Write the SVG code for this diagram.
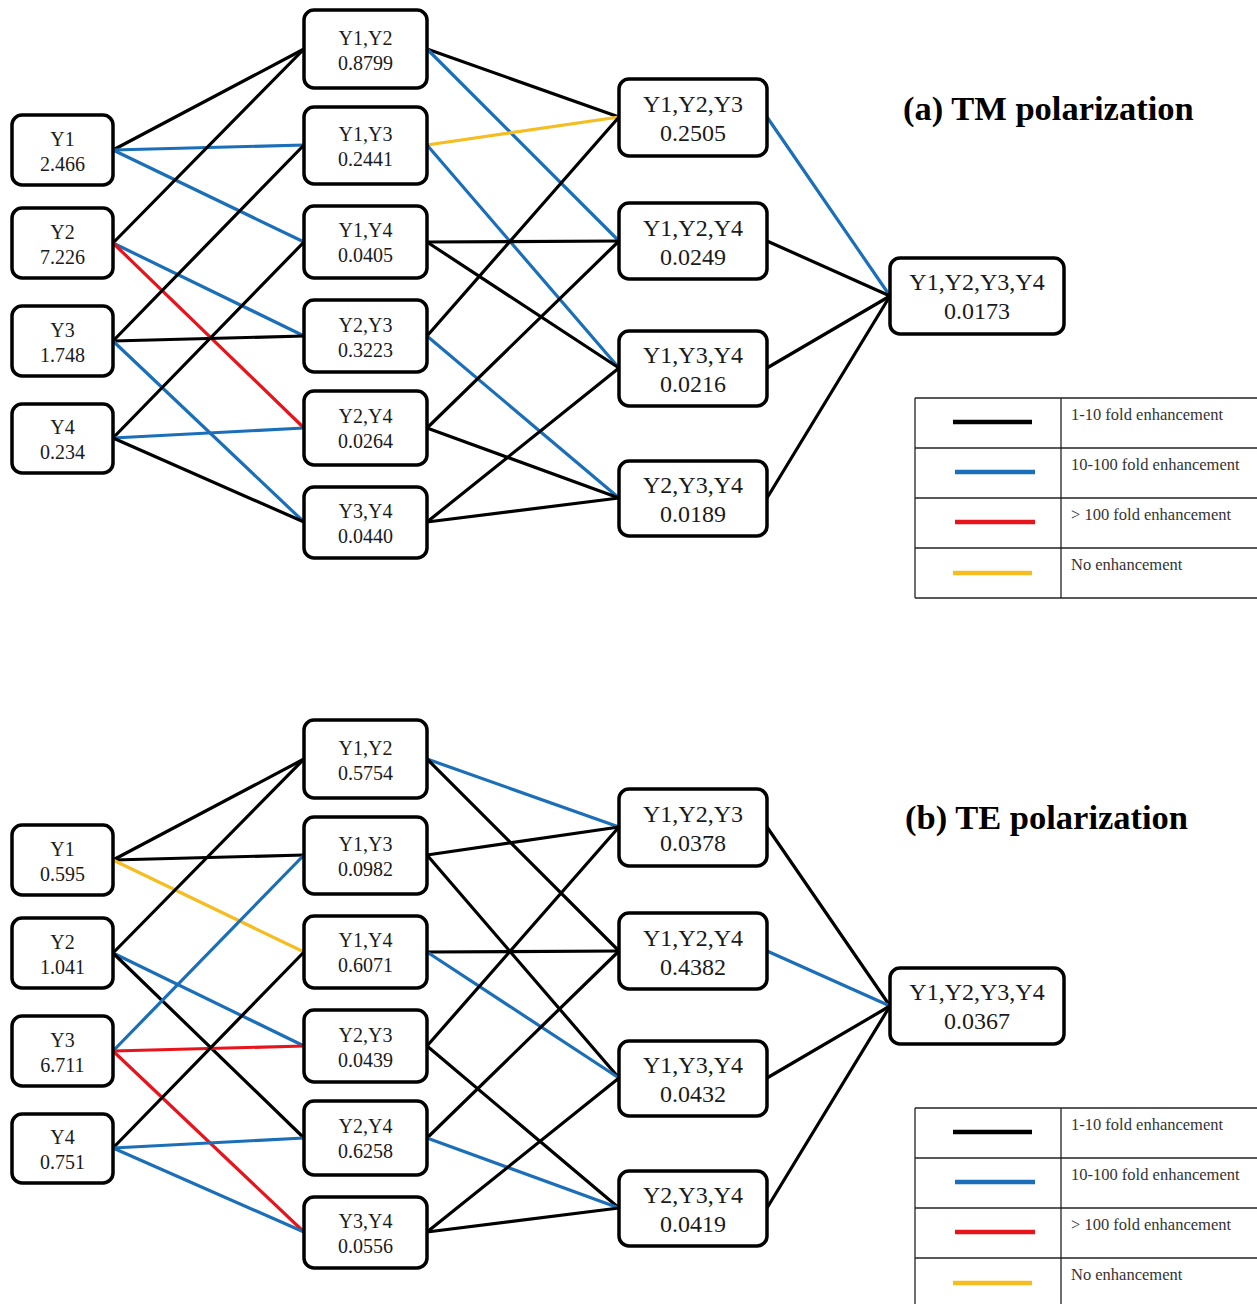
<svg xmlns="http://www.w3.org/2000/svg" width="1257" height="1304" viewBox="0 0 1257 1304">
<style>
.bg{fill:#fff}
.n rect{fill:#fff;stroke:#000;stroke-width:3.5}
.n text{font-family:"Liberation Serif","Times New Roman",serif;fill:#1a1a1a;text-anchor:middle}
.s text{font-size:20px}
.l text{font-size:24px}
.c line{stroke-width:3.2;stroke-linecap:round}
.k{stroke:#000}
.b{stroke:#1a6fb8}
.r{stroke:#e8141c}
.y{stroke:#f5bd1f}
.title{font-family:"Liberation Serif","Times New Roman",serif;font-weight:bold;font-size:34.5px;fill:#000}
.lg line.grid{stroke:#222;stroke-width:1.3}
.lg line.sw{stroke-width:4.5}
.lg text{font-family:"Liberation Serif","Times New Roman",serif;font-size:16.5px;fill:#333}
</style>
<rect class="bg" x="0" y="0" width="1257" height="1304"/>

<defs>
<g id="legend" class="lg">
  <line class="grid" x1="915" y1="398" x2="1257" y2="398"/>
  <line class="grid" x1="915" y1="448" x2="1257" y2="448"/>
  <line class="grid" x1="915" y1="498" x2="1257" y2="498"/>
  <line class="grid" x1="915" y1="548" x2="1257" y2="548"/>
  <line class="grid" x1="915" y1="598" x2="1257" y2="598"/>
  <line class="grid" x1="915" y1="398" x2="915" y2="598"/>
  <line class="grid" x1="1061" y1="398" x2="1061" y2="598"/>
  <line class="sw k" x1="953" y1="422" x2="1032" y2="422"/>
  <line class="sw b" x1="955" y1="472" x2="1035" y2="472"/>
  <line class="sw r" x1="955" y1="522" x2="1035" y2="522"/>
  <line class="sw y" x1="953" y1="573" x2="1032" y2="573"/>
  <text x="1071" y="420">1-10 fold enhancement</text>
  <text x="1071" y="470">10-100 fold enhancement</text>
  <text x="1071" y="520">&gt; 100 fold enhancement</text>
  <text x="1071" y="570">No enhancement</text>
</g>
</defs>

<!-- ================= Panel (a) TM ================= -->
<g id="panel-a">
<g id="a-connectors" class="c">
  <line class="k" x1="113" y1="150" x2="304" y2="49"/>
  <line class="b" x1="113" y1="150" x2="304" y2="145"/>
  <line class="b" x1="113" y1="150" x2="304" y2="242"/>
  <line class="k" x1="113" y1="243" x2="304" y2="49"/>
  <line class="b" x1="113" y1="243" x2="304" y2="336"/>
  <line class="r" x1="113" y1="243" x2="304" y2="428"/>
  <line class="k" x1="113" y1="341" x2="304" y2="145"/>
  <line class="k" x1="113" y1="341" x2="304" y2="336"/>
  <line class="b" x1="113" y1="341" x2="304" y2="522"/>
  <line class="k" x1="113" y1="438" x2="304" y2="242"/>
  <line class="b" x1="113" y1="438" x2="304" y2="428"/>
  <line class="k" x1="113" y1="438" x2="304" y2="522"/>

  <line class="k" x1="427" y1="49" x2="619" y2="117"/>
  <line class="b" x1="427" y1="49" x2="619" y2="241"/>
  <line class="y" x1="427" y1="145" x2="619" y2="117"/>
  <line class="b" x1="427" y1="145" x2="619" y2="368"/>
  <line class="k" x1="427" y1="242" x2="619" y2="241"/>
  <line class="k" x1="427" y1="242" x2="619" y2="368"/>
  <line class="k" x1="427" y1="336" x2="619" y2="117"/>
  <line class="b" x1="427" y1="336" x2="619" y2="498"/>
  <line class="k" x1="427" y1="428" x2="619" y2="241"/>
  <line class="k" x1="427" y1="428" x2="619" y2="498"/>
  <line class="k" x1="427" y1="522" x2="619" y2="368"/>
  <line class="k" x1="427" y1="522" x2="619" y2="498"/>

  <line class="b" x1="767" y1="117" x2="890" y2="296"/>
  <line class="k" x1="767" y1="241" x2="890" y2="296"/>
  <line class="k" x1="767" y1="368" x2="890" y2="296"/>
  <line class="k" x1="767" y1="498" x2="890" y2="296"/>
</g>

<g id="a-Y1" class="n s"><rect x="12" y="115" width="101" height="70" rx="10"/><text x="62.5" y="146">Y1</text><text x="62.5" y="171">2.466</text></g>
<g id="a-Y2" class="n s"><rect x="12" y="208" width="101" height="70" rx="10"/><text x="62.5" y="239">Y2</text><text x="62.5" y="264">7.226</text></g>
<g id="a-Y3" class="n s"><rect x="12" y="306" width="101" height="70" rx="10"/><text x="62.5" y="337">Y3</text><text x="62.5" y="362">1.748</text></g>
<g id="a-Y4" class="n s"><rect x="12" y="404" width="101" height="69" rx="10"/><text x="62.5" y="434">Y4</text><text x="62.5" y="459">0.234</text></g>

<g id="a-Y1Y2" class="n s"><rect x="304" y="10" width="123" height="78" rx="10"/><text x="365.5" y="45">Y1,Y2</text><text x="365.5" y="70">0.8799</text></g>
<g id="a-Y1Y3" class="n s"><rect x="304" y="107" width="123" height="77" rx="10"/><text x="365.5" y="141">Y1,Y3</text><text x="365.5" y="166">0.2441</text></g>
<g id="a-Y1Y4" class="n s"><rect x="304" y="206" width="123" height="72" rx="10"/><text x="365.5" y="237">Y1,Y4</text><text x="365.5" y="262">0.0405</text></g>
<g id="a-Y2Y3" class="n s"><rect x="304" y="300" width="123" height="72" rx="10"/><text x="365.5" y="332">Y2,Y3</text><text x="365.5" y="357">0.3223</text></g>
<g id="a-Y2Y4" class="n s"><rect x="304" y="391" width="123" height="74" rx="10"/><text x="365.5" y="423">Y2,Y4</text><text x="365.5" y="448">0.0264</text></g>
<g id="a-Y3Y4" class="n s"><rect x="304" y="487" width="123" height="71" rx="10"/><text x="365.5" y="518">Y3,Y4</text><text x="365.5" y="543">0.0440</text></g>

<g id="a-Y1Y2Y3" class="n l"><rect x="619" y="79" width="148" height="77" rx="10"/><text x="693" y="112">Y1,Y2,Y3</text><text x="693" y="141">0.2505</text></g>
<g id="a-Y1Y2Y4" class="n l"><rect x="619" y="203" width="148" height="76" rx="10"/><text x="693" y="236">Y1,Y2,Y4</text><text x="693" y="265">0.0249</text></g>
<g id="a-Y1Y3Y4" class="n l"><rect x="619" y="331" width="148" height="75" rx="10"/><text x="693" y="363">Y1,Y3,Y4</text><text x="693" y="392">0.0216</text></g>
<g id="a-Y2Y3Y4" class="n l"><rect x="619" y="461" width="148" height="75" rx="10"/><text x="693" y="493">Y2,Y3,Y4</text><text x="693" y="522">0.0189</text></g>

<g id="a-Y1Y2Y3Y4" class="n l"><rect x="890" y="258" width="174" height="76" rx="10"/><text x="977" y="290">Y1,Y2,Y3,Y4</text><text x="977" y="319">0.0173</text></g>

<text id="a-title" class="title" x="903" y="120">(a) TM polarization</text>
<use id="a-legend" href="#legend"/>
</g>

<!-- ================= Panel (b) TE ================= -->
<g id="panel-b" transform="translate(0,710)">
<g id="b-connectors" class="c">
  <line class="k" x1="113" y1="150" x2="304" y2="49"/>
  <line class="k" x1="113" y1="150" x2="304" y2="145"/>
  <line class="y" x1="113" y1="150" x2="304" y2="242"/>
  <line class="k" x1="113" y1="243" x2="304" y2="49"/>
  <line class="b" x1="113" y1="243" x2="304" y2="336"/>
  <line class="k" x1="113" y1="243" x2="304" y2="428"/>
  <line class="b" x1="113" y1="341" x2="304" y2="145"/>
  <line class="r" x1="113" y1="341" x2="304" y2="336"/>
  <line class="r" x1="113" y1="341" x2="304" y2="522"/>
  <line class="k" x1="113" y1="438" x2="304" y2="242"/>
  <line class="b" x1="113" y1="438" x2="304" y2="428"/>
  <line class="b" x1="113" y1="438" x2="304" y2="522"/>

  <line class="b" x1="427" y1="49" x2="619" y2="117"/>
  <line class="k" x1="427" y1="49" x2="619" y2="241"/>
  <line class="k" x1="427" y1="145" x2="619" y2="117"/>
  <line class="k" x1="427" y1="145" x2="619" y2="368"/>
  <line class="k" x1="427" y1="242" x2="619" y2="241"/>
  <line class="b" x1="427" y1="242" x2="619" y2="368"/>
  <line class="k" x1="427" y1="336" x2="619" y2="117"/>
  <line class="k" x1="427" y1="336" x2="619" y2="498"/>
  <line class="k" x1="427" y1="428" x2="619" y2="241"/>
  <line class="b" x1="427" y1="428" x2="619" y2="498"/>
  <line class="k" x1="427" y1="522" x2="619" y2="368"/>
  <line class="k" x1="427" y1="522" x2="619" y2="498"/>

  <line class="k" x1="767" y1="117" x2="890" y2="296"/>
  <line class="b" x1="767" y1="241" x2="890" y2="296"/>
  <line class="k" x1="767" y1="368" x2="890" y2="296"/>
  <line class="k" x1="767" y1="498" x2="890" y2="296"/>
</g>

<g id="b-Y1" class="n s"><rect x="12" y="115" width="101" height="70" rx="10"/><text x="62.5" y="146">Y1</text><text x="62.5" y="171">0.595</text></g>
<g id="b-Y2" class="n s"><rect x="12" y="208" width="101" height="70" rx="10"/><text x="62.5" y="239">Y2</text><text x="62.5" y="264">1.041</text></g>
<g id="b-Y3" class="n s"><rect x="12" y="306" width="101" height="70" rx="10"/><text x="62.5" y="337">Y3</text><text x="62.5" y="362">6.711</text></g>
<g id="b-Y4" class="n s"><rect x="12" y="404" width="101" height="69" rx="10"/><text x="62.5" y="434">Y4</text><text x="62.5" y="459">0.751</text></g>

<g id="b-Y1Y2" class="n s"><rect x="304" y="10" width="123" height="78" rx="10"/><text x="365.5" y="45">Y1,Y2</text><text x="365.5" y="70">0.5754</text></g>
<g id="b-Y1Y3" class="n s"><rect x="304" y="107" width="123" height="77" rx="10"/><text x="365.5" y="141">Y1,Y3</text><text x="365.5" y="166">0.0982</text></g>
<g id="b-Y1Y4" class="n s"><rect x="304" y="206" width="123" height="72" rx="10"/><text x="365.5" y="237">Y1,Y4</text><text x="365.5" y="262">0.6071</text></g>
<g id="b-Y2Y3" class="n s"><rect x="304" y="300" width="123" height="72" rx="10"/><text x="365.5" y="332">Y2,Y3</text><text x="365.5" y="357">0.0439</text></g>
<g id="b-Y2Y4" class="n s"><rect x="304" y="391" width="123" height="74" rx="10"/><text x="365.5" y="423">Y2,Y4</text><text x="365.5" y="448">0.6258</text></g>
<g id="b-Y3Y4" class="n s"><rect x="304" y="487" width="123" height="71" rx="10"/><text x="365.5" y="518">Y3,Y4</text><text x="365.5" y="543">0.0556</text></g>

<g id="b-Y1Y2Y3" class="n l"><rect x="619" y="79" width="148" height="77" rx="10"/><text x="693" y="112">Y1,Y2,Y3</text><text x="693" y="141">0.0378</text></g>
<g id="b-Y1Y2Y4" class="n l"><rect x="619" y="203" width="148" height="76" rx="10"/><text x="693" y="236">Y1,Y2,Y4</text><text x="693" y="265">0.4382</text></g>
<g id="b-Y1Y3Y4" class="n l"><rect x="619" y="331" width="148" height="75" rx="10"/><text x="693" y="363">Y1,Y3,Y4</text><text x="693" y="392">0.0432</text></g>
<g id="b-Y2Y3Y4" class="n l"><rect x="619" y="461" width="148" height="75" rx="10"/><text x="693" y="493">Y2,Y3,Y4</text><text x="693" y="522">0.0419</text></g>

<g id="b-Y1Y2Y3Y4" class="n l"><rect x="890" y="258" width="174" height="76" rx="10"/><text x="977" y="290">Y1,Y2,Y3,Y4</text><text x="977" y="319">0.0367</text></g>

<text id="b-title" class="title" x="905" y="119">(b) TE polarization</text>
<use id="b-legend" href="#legend"/>
</g>
</svg>
